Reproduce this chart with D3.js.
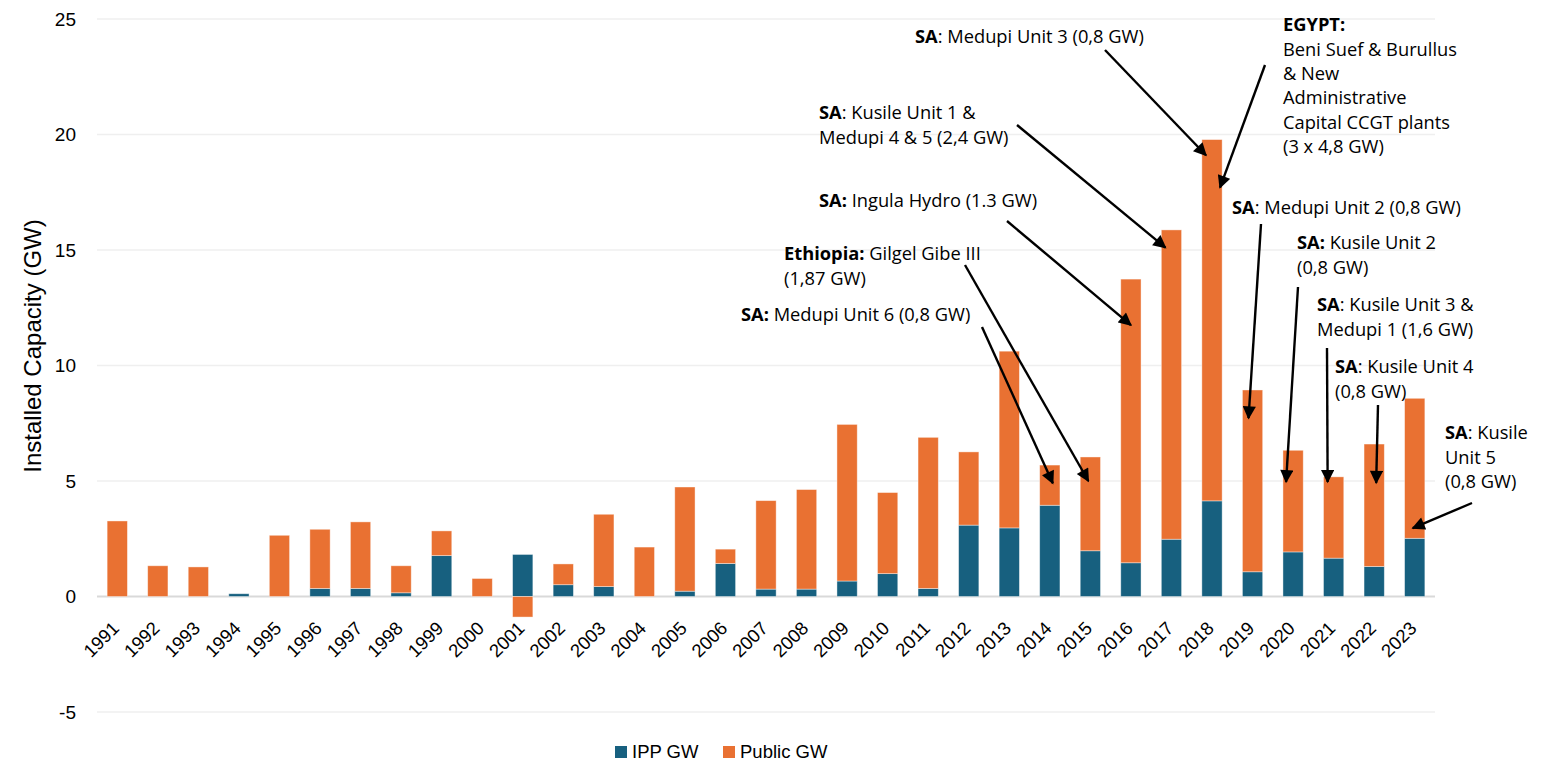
<!DOCTYPE html>
<html>
<head>
<meta charset="utf-8">
<script src="https://cdn.jsdelivr.net/npm/d3@7"></script>
<style>
  body { margin: 0; background: #fff; }
  svg { display: block; }
</style>
</head>
<body>
<div id="hook-chart"></div>
<script>
'use strict';

// data
var years = [1991, 1992, 1993, 1994, 1995, 1996, 1997, 1998, 1999, 2000, 2001,
  2002, 2003, 2004, 2005, 2006, 2007, 2008, 2009, 2010, 2011, 2012,
  2013, 2014, 2015, 2016, 2017, 2018, 2019, 2020, 2021, 2022, 2023];

var ippGW = [0, 0, 0, 0.12, 0, 0.35, 0.35, 0.16, 1.77, 0, 1.82,
  0.51, 0.43, 0, 0.23, 1.43, 0.32, 0.32, 0.67, 0.99, 0.35, 3.09,
  2.97, 3.95, 1.98, 1.46, 2.48, 4.14, 1.07, 1.93, 1.66, 1.30, 2.52];

var publicGW = [3.27, 1.33, 1.28, 0, 2.65, 2.56, 2.88, 1.17, 1.07, 0.78, -0.89,
  0.90, 3.13, 2.14, 4.51, 0.62, 3.83, 4.31, 6.78, 3.51, 6.54, 3.17,
  7.65, 1.74, 4.06, 12.28, 13.39, 15.64, 7.87, 4.40, 3.52, 5.30, 6.06];

var seriesNames = ['IPP GW', 'Public GW'];
var yTicks = [-5, 0, 5, 10, 15, 20, 25];

// annotations: label lines ([bold, normal] pairs) and the bar each arrow points to
var notes = [
  { lines: [['SA', ': Medupi Unit 3 (0,8 GW)']], year: 2018, value: 19.1 },
  { lines: [['SA', ': Kusile Unit 1 &'], ['', 'Medupi 4 & 5 (2,4 GW)']], year: 2017, value: 15.1 },
  { lines: [['SA:', ' Ingula Hydro (1.3 GW)']], year: 2016, value: 11.75 },
  { lines: [['Ethiopia:', ' Gilgel Gibe III'], ['', '(1,87 GW)']], year: 2015, value: 5.0 },
  { lines: [['SA:', ' Medupi Unit 6 (0,8 GW)']], year: 2014, value: 4.9 },
  { lines: [['EGYPT:', ''], ['', 'Beni Suef & Burullus'], ['', '& New'], ['', 'Administrative'],
    ['', 'Capital CCGT plants'], ['', '(3 x 4,8 GW)']], year: 2018, value: 17.7 },
  { lines: [['SA', ': Medupi Unit 2 (0,8 GW)']], year: 2019, value: 7.72 },
  { lines: [['SA:', ' Kusile Unit 2'], ['', '(0,8 GW)']], year: 2020, value: 4.96 },
  { lines: [['SA', ': Kusile Unit 3 &'], ['', 'Medupi 1 (1,6 GW)']], year: 2021, value: 4.96 },
  { lines: [['SA', ': Kusile Unit 4'], ['', '(0,8 GW)']], year: 2022, value: 4.92 },
  { lines: [['SA', ': Kusile'], ['', 'Unit 5'], ['', '(0,8 GW)']], year: 2023, value: 2.96 }
];

// layout of the annotation labels (pixels): text x, first line centre y, arrow tail, tip shift
var noteLayout = [
  { tx: 915, ty: 37, ax: 1105, ay: 50, dx: -6 },
  { tx: 819, ty: 113, ax: 1017, ay: 125, dx: -6 },
  { tx: 819, ty: 201, ax: 1007, ay: 221, dx: 0 },
  { tx: 784, ty: 254, ax: 965, ay: 265, dx: -2 },
  { tx: 741, ty: 315, ax: 982, ay: 327, dx: 3 },
  { tx: 1283, ty: 25, ax: 1265, ay: 65, dx: 8 },
  { tx: 1232, ty: 208, ax: 1261, ay: 224, dx: -4 },
  { tx: 1297, ty: 243, ax: 1298, ay: 287, dx: -7 },
  { tx: 1317, ty: 305, ax: 1327, ay: 348, dx: -6 },
  { tx: 1335, ty: 367, ax: 1378, ay: 405, dx: 2 },
  { tx: 1445, ty: 433, ax: 1472, ay: 503, dx: -2 }
];

var options = {
  width: 1550,
  height: 762,
  left: 97,
  right: 1435,
  top: 19,
  bottom: 712,
  colors: ['#17607F', '#E97132'],
  lineHeight: 24.3
};

function update(options) {

  var svg = d3.select('#hook-chart')
    .append('svg')
    .attr('width', options.width)
    .attr('height', options.height);

  var x = d3.scaleBand()
    .domain(years)
    .range([options.left, options.right])
    .paddingInner(0.5)
    .paddingOuter(0.25);

  var y = d3.scaleLinear()
    .domain([-5, 25])
    .range([options.bottom, options.top]);

  // grid
  svg.append('g')
    .selectAll('line')
    .data(yTicks)
    .join('line')
    .attr('x1', options.left)
    .attr('x2', options.right)
    .attr('y1', function(d) { return y(d); })
    .attr('y2', function(d) { return y(d); })
    .style('stroke', function(d) { return d === 0 ? '#D9D9D9' : '#EFEFEF'; })
    .style('stroke-width', function(d) { return d === 0 ? 2 : 1.5; });

  // y axis labels
  var yAxis = svg.append('g')
    .attr('transform', 'translate(' + (options.left - 10) + ',0)')
    .call(d3.axisLeft(y).tickValues(yTicks).tickFormat(String).tickSize(0).tickPadding(11));
  yAxis.select('.domain').remove();
  yAxis.selectAll('text')
    .style('font-family', 'Liberation Sans, Arial, sans-serif')
    .style('font-size', '19px')
    .style('fill', '#000');

  svg.append('text')
    .attr('transform', 'translate(41,346) rotate(-90)')
    .attr('text-anchor', 'middle')
    .style('font-family', 'Liberation Sans, Arial, sans-serif')
    .style('font-size', '24px')
    .style('fill', '#000')
    .text('Installed Capacity (GW)');

  // stacked bars
  var table = years.map(function(yr, i) {
    return { year: yr, 'IPP GW': ippGW[i], 'Public GW': publicGW[i] };
  });
  var stack = d3.stack()
    .keys(seriesNames)
    .offset(d3.stackOffsetDiverging);

  svg.append('g')
    .selectAll('g')
    .data(stack(table))
    .join('g')
    .style('fill', function(d, i) { return options.colors[i]; })
    .selectAll('rect')
    .data(function(d) { return d; })
    .join('rect')
    .attr('x', function(d) { return x(d.data.year); })
    .attr('width', x.bandwidth())
    .attr('y', function(d) { return y(Math.max(d[0], d[1])); })
    .attr('height', function(d) { return Math.abs(y(d[0]) - y(d[1])); })
    .style('stroke', '#fff')
    .style('stroke-opacity', 0.5)
    .style('stroke-width', 0.8);

  // x axis labels
  var xAxis = svg.append('g')
    .attr('transform', 'translate(0,' + y(0) + ')')
    .call(d3.axisBottom(x).tickSize(0).tickPadding(0));
  xAxis.select('.domain').remove();
  xAxis.selectAll('text')
    .attr('text-anchor', 'end')
    .attr('dy', '0')
    .attr('transform', 'translate(3,33) rotate(-45)')
    .style('font-family', 'Liberation Sans, Arial, sans-serif')
    .style('font-size', '18.5px')
    .style('fill', '#000');

  // annotations
  var defs = svg.append('defs');
  defs.append('marker')
    .attr('id', 'arrow')
    .attr('viewBox', '0 0 10 10')
    .attr('refX', 9)
    .attr('refY', 5)
    .attr('markerWidth', 6)
    .attr('markerHeight', 5.5)
    .attr('markerUnits', 'strokeWidth')
    .attr('orient', 'auto')
    .append('path')
    .attr('d', 'M0,0 L10,5 L0,10 Z')
    .style('fill', '#000');

  var ann = svg.append('g');
  notes.forEach(function(n, i) {
    var L = noteLayout[i];
    var t = ann.append('text')
      .style('font-family', 'Open Sans, sans-serif')
      .style('font-size', '18.3px')
      .style('fill', '#000');
    n.lines.forEach(function(ln, k) {
      var yy = L.ty + k * options.lineHeight;
      var ts = t.append('tspan')
        .attr('x', L.tx)
        .attr('y', yy)
        .attr('dy', '0.35em');
      if (ln[0]) {
        ts.style('font-weight', 'bold').text(ln[0]);
        t.append('tspan').text(ln[1]);
      } else {
        ts.text(ln[1]);
      }
    });
    ann.append('line')
      .attr('x1', L.ax)
      .attr('y1', L.ay)
      .attr('x2', x(n.year) + x.bandwidth() / 2 + L.dx)
      .attr('y2', y(n.value))
      .style('stroke', '#000')
      .style('stroke-width', 2.4)
      .attr('marker-end', 'url(#arrow)');
  });

  // legend
  var legend = svg.append('g')
    .selectAll('g')
    .data(seriesNames)
    .join('g')
    .attr('transform', function(d, i) { return 'translate(' + [615, 723][i] + ',746)'; });
  legend.append('rect')
    .attr('width', 12)
    .attr('height', 12)
    .style('fill', function(d, i) { return options.colors[i]; });
  legend.append('text')
    .attr('x', 17)
    .attr('y', 6)
    .attr('dy', '0.35em')
    .style('font-family', 'Liberation Sans, Arial, sans-serif')
    .style('font-size', '18.5px')
    .style('fill', '#000')
    .text(function(d) { return d; });
}

update(options);
</script>
</body>
</html>
